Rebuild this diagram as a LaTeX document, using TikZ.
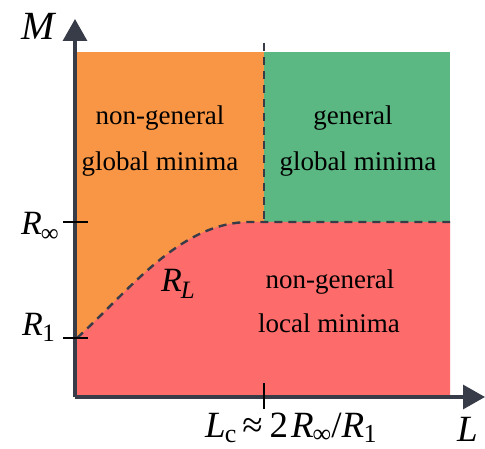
\documentclass[tikz,border=0pt]{standalone}
\usepackage{fontspec}
\setmainfont{Liberation Serif}
\usetikzlibrary{arrows.meta}
\definecolor{orng}{RGB}{248,150,70}
\definecolor{grn}{RGB}{92,184,130}
\definecolor{rd}{RGB}{254,107,107}
\definecolor{axc}{RGB}{55,60,72}
\newcommand\mysub[1]{\raisebox{-0.2em}{\fontsize{25}{25}\selectfont #1}}
\tikzset{
  axis/.style={draw=axc, line width=3.3pt, -{Triangle[width=24pt,length=22pt]}},
  tick/.style={draw=black, line width=2pt},
  dsh/.style={draw=axc, line width=2.4pt, dash pattern=on 8pt off 6pt},
  txt/.style={inner sep=0pt, font=\fontsize{27}{27}\selectfont},
  mth/.style={inner sep=0pt, font=\fontsize{34}{34}\selectfont},
  big/.style={inner sep=0pt, font=\fontsize{40}{40}\selectfont\itshape},
}
\begin{document}
\begin{tikzpicture}[x=1pt,y=-1pt]
\useasboundingbox (0,0) rectangle (485,449);
\fill[orng] (77,52) rectangle (264,395);
\fill[grn] (264,52) rectangle (450,222);
\fill[rd] (77,338) .. controls (130,290) and (180,222) .. (250,222) -- (450,222) -- (450,395) -- (77,395) -- cycle;
% boundaries
\coordinate (c1) at (77,338);
\coordinate (c2) at (250,222);
\coordinate (c3) at (450,222);
\coordinate (v1) at (264,43);
\coordinate (v2) at (264,222);
\draw[dsh] (c1) .. controls (130,290) and (180,222) .. (c2) -- (c3);
\draw[dsh] (v1) -- (v2);
% axes
\coordinate (O) at (75,397);
\coordinate (Yt) at (75,19);
\coordinate (Xt) at (485,397);
\draw[axis] (O) -- (Yt);
\draw[axis] (O) -- (Xt);
% ticks
\coordinate (ta1) at (63,222); \coordinate (ta2) at (88,222);
\coordinate (tb1) at (63,338); \coordinate (tb2) at (88,338);
\coordinate (tc1) at (264,383); \coordinate (tc2) at (264,409);
\draw[tick] (ta1) -- (ta2);
\draw[tick] (tb1) -- (tb2);
\draw[tick] (tc1) -- (tc2);
% labels
\node[big, anchor=base west] (M) at (21,40) {M};
\node[big, anchor=base west, font=\fontsize{37}{37}\selectfont\itshape] (L) at (457,441) {L};
\node[mth, anchor=base west] (Rinf) at (21,235) {\textit{R}\kern-1pt\mysub{∞}};
\node[mth, anchor=base west] (R1) at (22,335) {\textit{R}\kern-0.5pt\mysub{1}};
\node[mth, anchor=base west] (RL) at (161,292) {\textit{R}\kern-1pt\mysub{\textit{L}}};
\node[mth, anchor=base west, font=\fontsize{37}{37}\selectfont] (Lc) at (205,437) {\textit{L}\kern-1pt\raisebox{-0.15em}{\fontsize{26}{26}\selectfont c}\hspace{6pt}≈\hspace{7pt}2\hspace{3pt}\textit{R}\kern-1pt\raisebox{-0.15em}{\fontsize{26}{26}\selectfont ∞}/\textit{R}\kern-0.5pt\raisebox{-0.15em}{\fontsize{26}{26}\selectfont 1}};
\node[txt, anchor=base] (a1) at (160,125) {non-general};
\node[txt, anchor=base] (a2) at (160,171) {global minima};
\node[txt, anchor=base] (b1) at (353,125) {general};
\node[txt, anchor=base] (b2) at (358,171) {global minima};
\node[txt, anchor=base] (c1t) at (330,289) {non-general};
\node[txt, anchor=base] (c2t) at (329,332) {local minima};
\end{tikzpicture}
\end{document}
